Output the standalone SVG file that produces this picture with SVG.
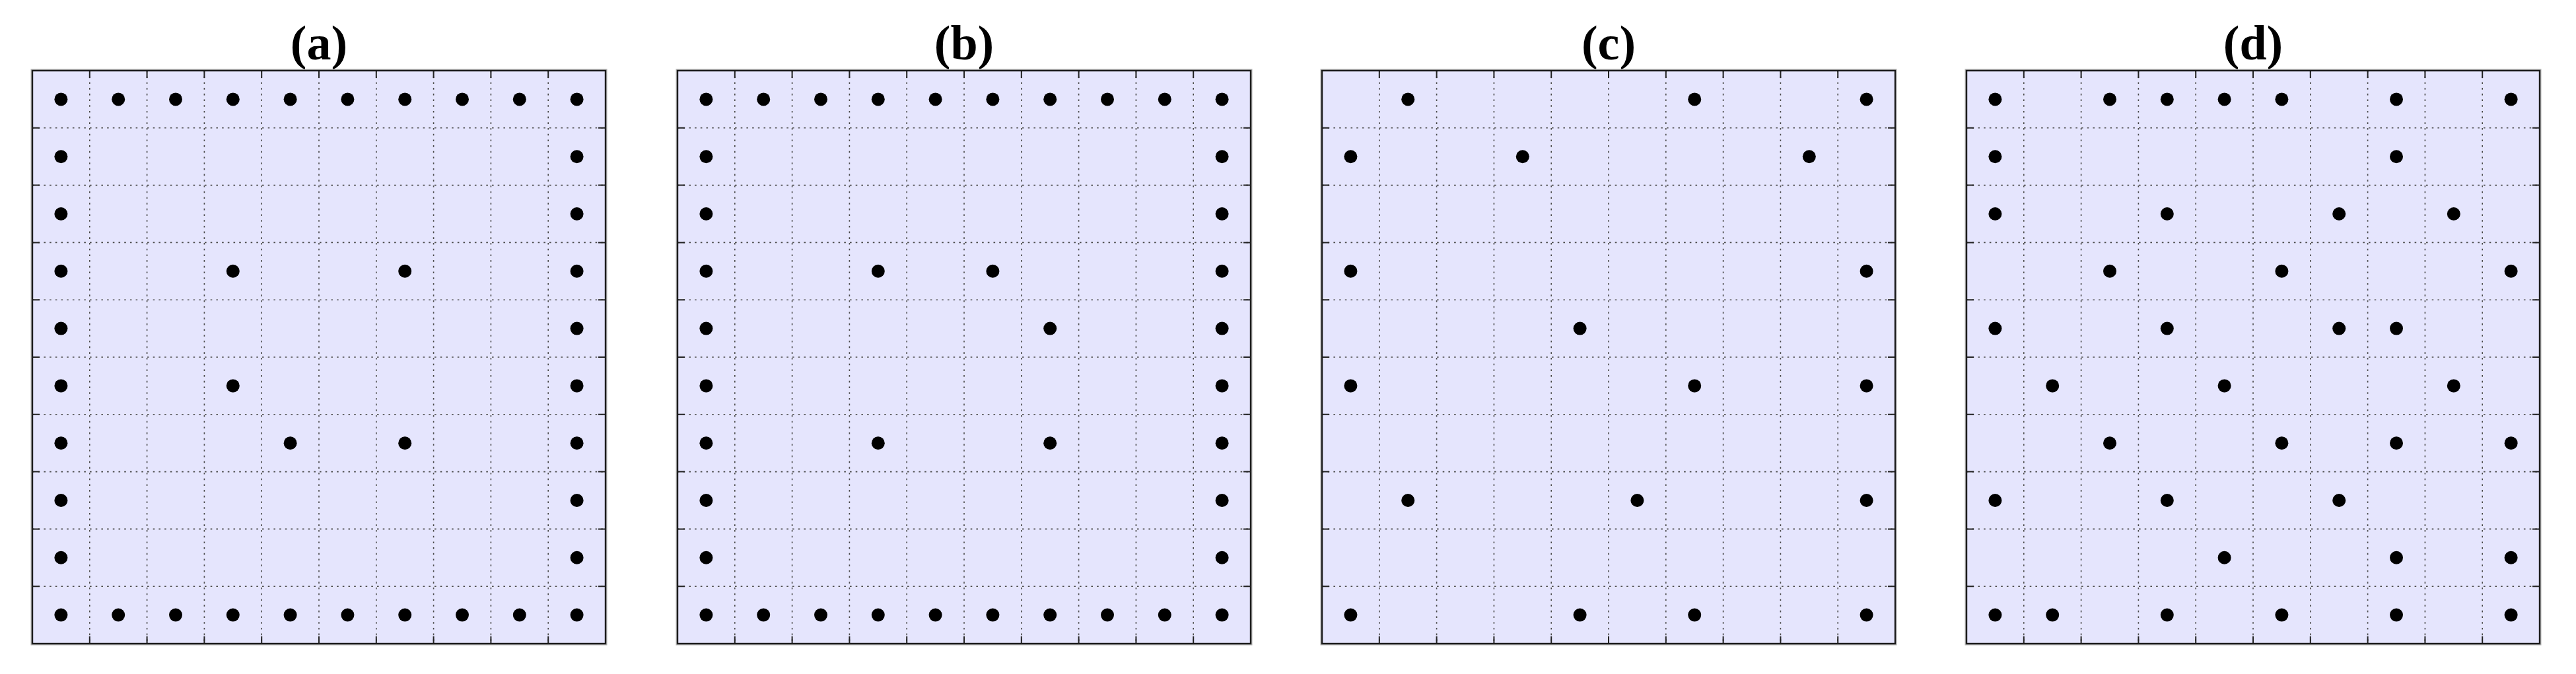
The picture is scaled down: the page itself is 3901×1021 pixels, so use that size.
<svg xmlns="http://www.w3.org/2000/svg" xmlns:xlink="http://www.w3.org/1999/xlink" width="3901" height="1021" viewBox="0 0 3901 1021">
<style>
.title{font-family:"Liberation Serif","DejaVu Serif",serif;font-weight:bold;font-size:74px;fill:#000;text-anchor:middle}
.bg{fill:#E5E5FD;stroke:none}
.grid{fill:none;stroke:#4a4a4a;stroke-width:1.6;stroke-dasharray:2.6 6.1}
.tick{fill:none;stroke:#222;stroke-width:2}
.frame-shadow{fill:none;stroke:#b4b4b4;stroke-width:5}
.frame{fill:none;stroke:#1c1c1c;stroke-width:2.4}
.dot{fill:#000}
</style>
<defs>
<circle id="d" class="dot" r="10"/>
<g id="axes">
<rect class="frame-shadow" x="0" y="0" width="868" height="868"/>
<rect class="bg" x="0" y="0" width="868" height="868"/>
<path class="grid" d="M86.8 0V868M173.6 0V868M260.4 0V868M347.2 0V868M434 0V868M520.8 0V868M607.6 0V868M694.4 0V868M781.2 0V868M0 86.8H868M0 173.6H868M0 260.4H868M0 347.2H868M0 434H868M0 520.8H868M0 607.6H868M0 694.4H868M0 781.2H868"/>
<path class="tick" d="M86.8 0v11M173.6 0v11M260.4 0v11M347.2 0v11M434 0v11M520.8 0v11M607.6 0v11M694.4 0v11M781.2 0v11M86.8 868v-11M173.6 868v-11M260.4 868v-11M347.2 868v-11M434 868v-11M520.8 868v-11M607.6 868v-11M694.4 868v-11M781.2 868v-11M0 86.8h11M0 173.6h11M0 260.4h11M0 347.2h11M0 434h11M0 520.8h11M0 607.6h11M0 694.4h11M0 781.2h11M868 86.8h-11M868 173.6h-11M868 260.4h-11M868 347.2h-11M868 434h-11M868 520.8h-11M868 607.6h-11M868 694.4h-11M868 781.2h-11"/>
<rect class="frame" x="0" y="0" width="868" height="868"/>
</g>
</defs>

<g id="panel-a">
<text class="title" x="483" y="90">(a)</text>
<g transform="translate(49,107)">
<use href="#axes"/>
<g id="dots-a">
<use href="#d" x="43.4" y="43.4"/><use href="#d" x="130.2" y="43.4"/><use href="#d" x="217" y="43.4"/><use href="#d" x="303.8" y="43.4"/><use href="#d" x="390.6" y="43.4"/><use href="#d" x="477.4" y="43.4"/><use href="#d" x="564.2" y="43.4"/><use href="#d" x="651" y="43.4"/><use href="#d" x="737.8" y="43.4"/><use href="#d" x="824.6" y="43.4"/>
<use href="#d" x="43.4" y="130.2"/><use href="#d" x="824.6" y="130.2"/>
<use href="#d" x="43.4" y="217"/><use href="#d" x="824.6" y="217"/>
<use href="#d" x="43.4" y="303.8"/><use href="#d" x="303.8" y="303.8"/><use href="#d" x="564.2" y="303.8"/><use href="#d" x="824.6" y="303.8"/>
<use href="#d" x="43.4" y="390.6"/><use href="#d" x="824.6" y="390.6"/>
<use href="#d" x="43.4" y="477.4"/><use href="#d" x="303.8" y="477.4"/><use href="#d" x="824.6" y="477.4"/>
<use href="#d" x="43.4" y="564.2"/><use href="#d" x="390.6" y="564.2"/><use href="#d" x="564.2" y="564.2"/><use href="#d" x="824.6" y="564.2"/>
<use href="#d" x="43.4" y="651"/><use href="#d" x="824.6" y="651"/>
<use href="#d" x="43.4" y="737.8"/><use href="#d" x="824.6" y="737.8"/>
<use href="#d" x="43.4" y="824.6"/><use href="#d" x="130.2" y="824.6"/><use href="#d" x="217" y="824.6"/><use href="#d" x="303.8" y="824.6"/><use href="#d" x="390.6" y="824.6"/><use href="#d" x="477.4" y="824.6"/><use href="#d" x="564.2" y="824.6"/><use href="#d" x="651" y="824.6"/><use href="#d" x="737.8" y="824.6"/><use href="#d" x="824.6" y="824.6"/>
</g>
</g>
</g>

<g id="panel-b">
<text class="title" x="1460" y="90">(b)</text>
<g transform="translate(1026,107)">
<use href="#axes"/>
<g id="dots-b">
<use href="#d" x="43.4" y="43.4"/><use href="#d" x="130.2" y="43.4"/><use href="#d" x="217" y="43.4"/><use href="#d" x="303.8" y="43.4"/><use href="#d" x="390.6" y="43.4"/><use href="#d" x="477.4" y="43.4"/><use href="#d" x="564.2" y="43.4"/><use href="#d" x="651" y="43.4"/><use href="#d" x="737.8" y="43.4"/><use href="#d" x="824.6" y="43.4"/>
<use href="#d" x="43.4" y="130.2"/><use href="#d" x="824.6" y="130.2"/>
<use href="#d" x="43.4" y="217"/><use href="#d" x="824.6" y="217"/>
<use href="#d" x="43.4" y="303.8"/><use href="#d" x="303.8" y="303.8"/><use href="#d" x="477.4" y="303.8"/><use href="#d" x="824.6" y="303.8"/>
<use href="#d" x="43.4" y="390.6"/><use href="#d" x="564.2" y="390.6"/><use href="#d" x="824.6" y="390.6"/>
<use href="#d" x="43.4" y="477.4"/><use href="#d" x="824.6" y="477.4"/>
<use href="#d" x="43.4" y="564.2"/><use href="#d" x="303.8" y="564.2"/><use href="#d" x="564.2" y="564.2"/><use href="#d" x="824.6" y="564.2"/>
<use href="#d" x="43.4" y="651"/><use href="#d" x="824.6" y="651"/>
<use href="#d" x="43.4" y="737.8"/><use href="#d" x="824.6" y="737.8"/>
<use href="#d" x="43.4" y="824.6"/><use href="#d" x="130.2" y="824.6"/><use href="#d" x="217" y="824.6"/><use href="#d" x="303.8" y="824.6"/><use href="#d" x="390.6" y="824.6"/><use href="#d" x="477.4" y="824.6"/><use href="#d" x="564.2" y="824.6"/><use href="#d" x="651" y="824.6"/><use href="#d" x="737.8" y="824.6"/><use href="#d" x="824.6" y="824.6"/>
</g>
</g>
</g>

<g id="panel-c">
<text class="title" x="2436" y="90">(c)</text>
<g transform="translate(2002,107)">
<use href="#axes"/>
<g id="dots-c">
<use href="#d" x="130.2" y="43.4"/><use href="#d" x="564.2" y="43.4"/><use href="#d" x="824.6" y="43.4"/>
<use href="#d" x="43.4" y="130.2"/><use href="#d" x="303.8" y="130.2"/><use href="#d" x="737.8" y="130.2"/>
<use href="#d" x="43.4" y="303.8"/><use href="#d" x="824.6" y="303.8"/>
<use href="#d" x="390.6" y="390.6"/>
<use href="#d" x="43.4" y="477.4"/><use href="#d" x="564.2" y="477.4"/><use href="#d" x="824.6" y="477.4"/>
<use href="#d" x="130.2" y="651"/><use href="#d" x="477.4" y="651"/><use href="#d" x="824.6" y="651"/>
<use href="#d" x="43.4" y="824.6"/><use href="#d" x="390.6" y="824.6"/><use href="#d" x="564.2" y="824.6"/><use href="#d" x="824.6" y="824.6"/>
</g>
</g>
</g>

<g id="panel-d">
<text class="title" x="3412" y="90">(d)</text>
<g transform="translate(2978,107)">
<use href="#axes"/>
<g id="dots-d">
<use href="#d" x="43.4" y="43.4"/><use href="#d" x="217" y="43.4"/><use href="#d" x="303.8" y="43.4"/><use href="#d" x="390.6" y="43.4"/><use href="#d" x="477.4" y="43.4"/><use href="#d" x="651" y="43.4"/><use href="#d" x="824.6" y="43.4"/>
<use href="#d" x="43.4" y="130.2"/><use href="#d" x="651" y="130.2"/>
<use href="#d" x="43.4" y="217"/><use href="#d" x="303.8" y="217"/><use href="#d" x="564.2" y="217"/><use href="#d" x="737.8" y="217"/>
<use href="#d" x="217" y="303.8"/><use href="#d" x="477.4" y="303.8"/><use href="#d" x="824.6" y="303.8"/>
<use href="#d" x="43.4" y="390.6"/><use href="#d" x="303.8" y="390.6"/><use href="#d" x="564.2" y="390.6"/><use href="#d" x="651" y="390.6"/>
<use href="#d" x="130.2" y="477.4"/><use href="#d" x="390.6" y="477.4"/><use href="#d" x="737.8" y="477.4"/>
<use href="#d" x="217" y="564.2"/><use href="#d" x="477.4" y="564.2"/><use href="#d" x="651" y="564.2"/><use href="#d" x="824.6" y="564.2"/>
<use href="#d" x="43.4" y="651"/><use href="#d" x="303.8" y="651"/><use href="#d" x="564.2" y="651"/>
<use href="#d" x="390.6" y="737.8"/><use href="#d" x="651" y="737.8"/><use href="#d" x="824.6" y="737.8"/>
<use href="#d" x="43.4" y="824.6"/><use href="#d" x="130.2" y="824.6"/><use href="#d" x="303.8" y="824.6"/><use href="#d" x="477.4" y="824.6"/><use href="#d" x="651" y="824.6"/><use href="#d" x="824.6" y="824.6"/>
</g>
</g>
</g>

<g id="connectors"/>
</svg>
